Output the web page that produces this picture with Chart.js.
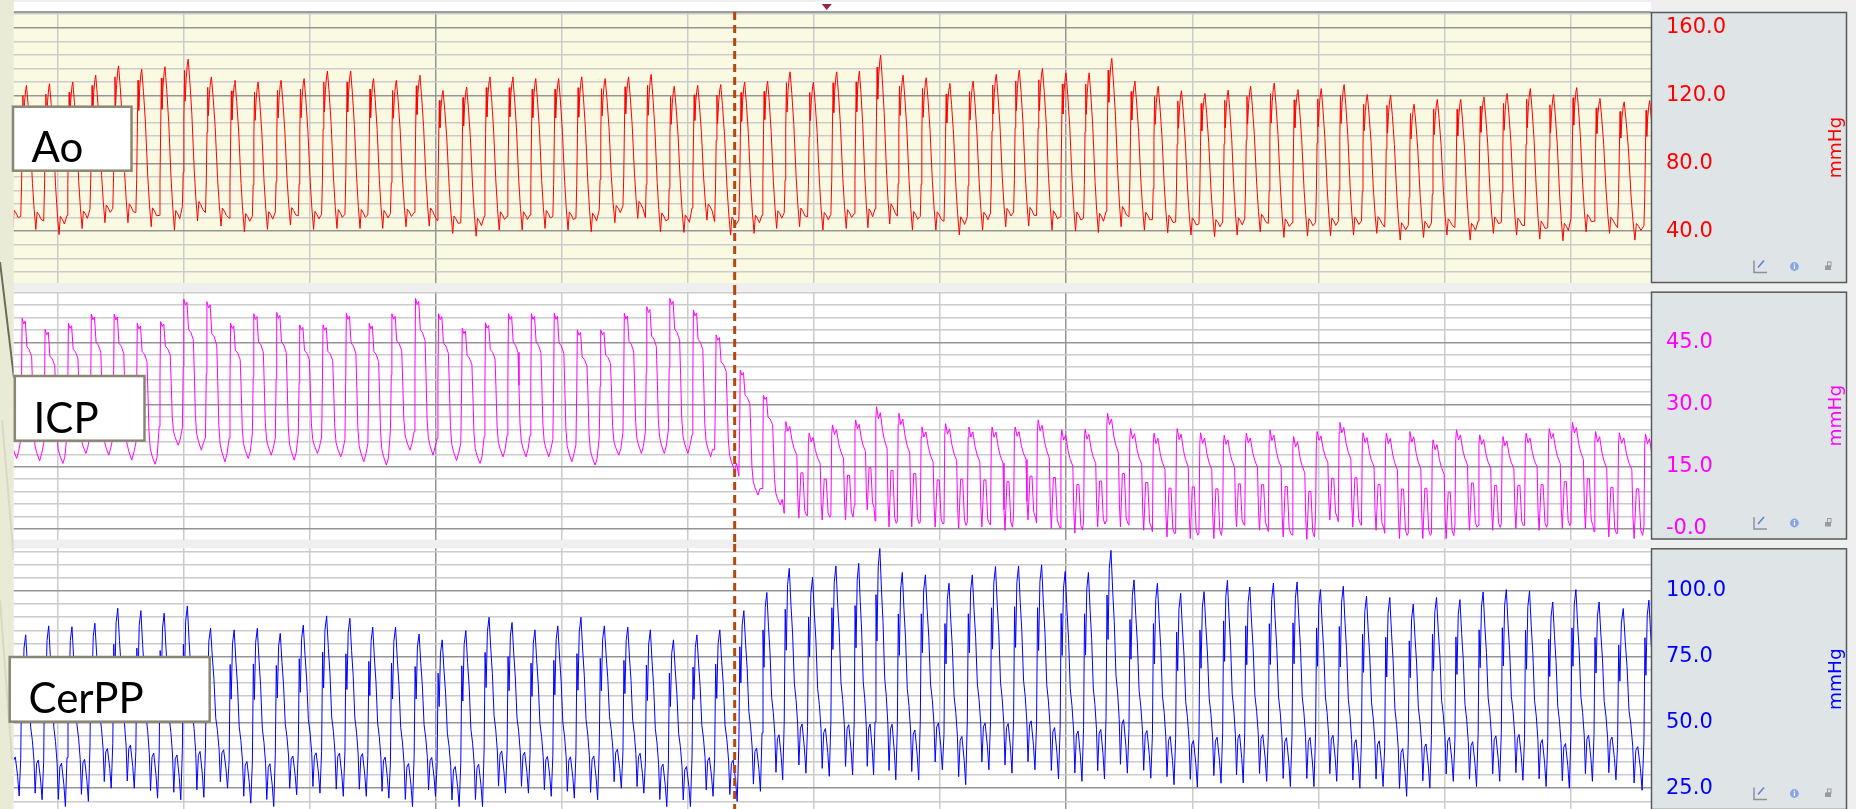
<!DOCTYPE html>
<html>
<head>
<meta charset="utf-8">
<title>Ao / ICP / CerPP</title>
<script src="https://cdn.jsdelivr.net/npm/chart.js@4.4.1/dist/chart.umd.min.js"></script>
<style>
  html, body { margin: 0; padding: 0; width: 1856px; height: 809px; overflow: hidden; background: #e9ebd6; }
  .panel { position: absolute; left: 0; width: 1856px; }
  .panel canvas { display: block; }
  svg.overlay { position: absolute; left: 0; top: 0; pointer-events: none; }
</style>
</head>
<body>

<svg class="overlay" width="1856" height="809">
  <line x1="0" y1="262" x2="14" y2="378" stroke="#6f6b57" stroke-width="2"/>
  <line x1="2" y1="420" x2="14" y2="560" stroke="#d7d9c3" stroke-width="2"/>
  <line x1="0" y1="600" x2="12" y2="760" stroke="#d7d9c3" stroke-width="2"/>
</svg>

<div class="panel" style="top:0;height:287px"><canvas id="aoChart"></canvas></div>
<div class="panel" style="top:287px;height:257px"><canvas id="icpChart"></canvas></div>
<div class="panel" style="top:544px;height:266px"><canvas id="cppChart"></canvas></div>

<svg class="overlay" width="1856" height="809">
  <g fill="#fff" stroke="#8b8674" stroke-width="2.5">
    <rect x="13" y="106.7" width="118.5" height="64"/>
    <rect x="14.8" y="376" width="129.7" height="64.7"/>
    <rect x="9.7" y="657" width="200" height="64.7"/>
  </g>
  <g font-family="Lato, 'Open Sans', sans-serif" font-size="42" fill="#000">
    <text x="31.6" y="162">Ao</text>
    <text x="33.6" y="432.7">ICP</text>
    <text x="28.5" y="713">CerPP</text>
  </g>
</svg>

<script>
// ============================================================
//  Ao / ICP / CerPP pressure traces
// ============================================================

// ── Beat onsets (s), one per heartbeat ───────────────
const beatTimes = [
  1.526, 1.709, 1.891, 2.076, 2.258, 2.439, 2.622, 2.807, 2.991, 3.174,
  3.362, 3.546, 3.728, 3.910, 4.095, 4.280, 4.462, 4.641, 4.829, 5.011,
  5.199, 5.384, 5.566, 5.748, 5.929, 6.112, 6.297, 6.485, 6.663, 6.845,
  7.033, 7.212, 7.404, 7.588, 7.764, 7.949, 8.134, 8.319, 8.484, 8.661,
  8.843, 9.031, 9.216, 9.400, 9.583, 9.765, 9.952, 10.138, 10.316, 10.498,
  10.684, 10.868, 11.053, 11.241, 11.416, 11.603, 11.791, 11.978, 12.158, 12.342,
  12.526, 12.713, 12.897, 13.083, 13.267, 13.451, 13.635, 13.819, 14.003, 14.186,
  14.373, 14.582
];

// ── Per-beat systolic / diastolic values (mmHg) ──────
const aoPeak = [
  128, 126, 127, 128, 132, 137.5, 135.5, 137, 141.5, 131,
  129, 128, 129, 130, 134.5, 134.5, 130, 129, 132, 123,
  125, 131, 131, 130, 130, 131, 130, 131, 132.5, 125.5,
  126, 126.5, 128, 128.5, 134, 128, 134, 134.5, 143.8, 132,
  130.5, 127.2, 128.5, 132.5, 135, 136, 133.4, 133.4, 141.9, 128.5,
  125.5, 122.8, 121.2, 123.2, 125.5, 127.4, 123.5, 124.1, 126.5, 120.6,
  120.2, 114.9, 117.7, 117.7, 119.3, 121.2, 124.1, 120.6, 124.7, 118.3,
  116.3, 117
];
const aoTrough = [
  42, 41, 38, 41.5, 45, 45, 42.6, 40.6, 46, 43,
  39.6, 41, 43.6, 41, 41.6, 41.6, 41.6, 42.6, 43, 38.7,
  37, 40.6, 40.6, 41.6, 40.6, 39.6, 45, 47.5, 39.6, 39.2,
  46.5, 37.7, 38.7, 41.6, 42.6, 40.6, 41.6, 42, 44.2, 40.6,
  40.6, 37.7, 40.6, 42.6, 43, 40.6, 40, 39.2, 42.6, 40.6,
  39, 37.7, 36.7, 37.7, 39.6, 36.3, 37.1, 37.3, 37.7, 38.7,
  34.7, 36.3, 37.7, 34.7, 38.7, 37.7, 35.3, 34.3, 39.6, 38.7,
  34.7, 36
];
const icpPeak = [
  50, 50.8, 48.1, 49.6, 51.8, 51.8, 49.6, 50, 55.4, 54.8,
  49.6, 51.9, 52.2, 49.2, 49.2, 52, 49.6, 51.9, 55.6, 51.9,
  48.4, 49.7, 51.9, 51.9, 52, 48, 48, 52, 53.6, 55.6,
  52.8, 46.8, 38.3, 32.3, 25.9, 23.1, 25.1, 26.3, 29.5, 27.9,
  24.6, 25.4, 24.6, 24.6, 24.6, 26.3, 23.9, 24, 27.9, 24.2,
  23.1, 24.2, 23.2, 22.6, 23.1, 23.9, 22.3, 23.5, 25.7, 23.2,
  23.1, 23.5, 21.5, 23.9, 22.7, 22.3, 23.1, 24.2, 25.7, 23.5,
  23.2, 22.9
];
const icpTrough = [
  17, 16.4, 15.8, 18.2, 17.8, 16.6, 15.6, 20.2, 19, 16.2,
  17, 17.8, 16.6, 18.2, 17.4, 16.2, 15.4, 19, 17.8, 16.5,
  15.8, 17.4, 17.4, 17.4, 16.2, 15.4, 17.8, 18.2, 18.2, 18.2,
  17.4, 14.2, 8.2, 5.8, 2.6, 2.2, 2.2, 4.6, 0.5, 0.5,
  0.5, 0.1, 0.5, -0.3, 2.2, 0.1, -1, 0.5, 0.5, -0.3,
  -1.9, -2.3, -2.3, 0.5, -0.3, -1.9, -2.7, 2.2, 0.5, -0.3,
  -2.3, -2.3, -2.3, -0.3, -0.3, 0.1, -0.3, 0.1, 0.1, -1.9,
  -2.3, -0.5
];
const cppPeak = [
  84, 83.3, 86.7, 86.4, 87.7, 93.4, 92.5, 91.5, 94.3, 85.8,
  85.2, 85.8, 83.9, 87, 90.5, 89.6, 86.2, 86.2, 83.6, 81.4,
  84.9, 90, 88, 85.2, 86.7, 90, 86.7, 86.2, 85.2, 81.4,
  83.3, 85.2, 92.5, 99.4, 108.6, 105.2, 109.5, 110.5, 116.2, 107,
  106.1, 102.9, 106.1, 109.3, 109.5, 109.9, 107.4, 107, 115.4, 104.2,
  102.9, 99.1, 99.7, 104, 101.5, 103, 103.4, 100.5, 101.8, 98,
  97.5, 95, 97.5, 96.7, 99.6, 100.5, 100, 95.8, 100.5, 95.8,
  93.3, 96.5
];
const cppTrough = [
  22, 20.6, 18, 20, 25, 25, 21.2, 20.6, 21.5, 25,
  19.3, 18, 22.5, 23.1, 21.9, 21.9, 21.2, 18, 21.9, 18,
  18, 23.1, 23.1, 21.9, 21.2, 20.6, 25, 23.1, 18, 18,
  21.9, 20, 23.8, 28.2, 30.7, 29.5, 30.1, 30.1, 28.2, 28.2,
  32, 26.3, 32, 30.7, 32, 28.5, 27.6, 28.5, 30.7, 28.8,
  26.3, 25.4, 26.9, 27, 27.6, 25.6, 25.6, 27.6, 25, 25.6,
  21.9, 25, 27.6, 25.6, 27.6, 28, 25.6, 25, 27.6, 28.2,
  24.2, 25
];

// ── Beat waveforms: [phase in beat, fraction trough→peak] ──
const aoShape = [
  [0, 0.09], [0.035, 0.3], [0.065, 0.63], [0.095, 0.93], [0.121, 0.74], [0.165, 0.88],
  [0.216, 0.97], [0.251, 1], [0.325, 0.86], [0.411, 0.66], [0.511, 0.32], [0.584, 0.14],
  [0.658, 0], [0.714, 0.12], [0.801, 0.1], [0.887, 0.07]
];
const icpShapeHigh = [
  [0, 0.15], [0.035, 0.55], [0.061, 1], [0.13, 0.96], [0.199, 0.98], [0.268, 0.8],
  [0.368, 0.78], [0.476, 0.73], [0.519, 0.5], [0.563, 0.23], [0.619, 0.11], [0.693, 0.06],
  [0.823, 0], [0.909, 0.05]
];
const icpShapeLow = [
  [0, 0.05], [0.035, 0.9], [0.069, 1], [0.152, 0.9], [0.238, 0.95], [0.338, 0.8],
  [0.424, 0.72], [0.541, 0.65], [0.584, 0.2], [0.628, 0], [0.714, 0.47], [0.801, 0.47],
  [0.879, 0.08], [0.952, 0.03]
];
const cppShape = [
  [0, 0.25], [0.043, 0.8], [0.087, 0.6], [0.143, 0.92], [0.216, 1], [0.29, 0.82],
  [0.359, 0.68], [0.433, 0.44], [0.506, 0.36], [0.576, 0.24], [0.628, 0.04], [0.693, 0.22],
  [0.766, 0.24], [0.866, 0.12], [0.931, 0]
];
const icpLowFrom = 34;        // first beat after the ICP drop
const beatPeriod = 0.183;     // used for the last beat only

// ── Axes ─────────────────────────────────────────────
const timeRange = [1.654, 14.638];
const markerTime = 7.371;     // dashed event line
const cursorTime = 8.101;     // red cursor arrow on top

const aoRange  = [9.4, 169.3];
const icpRange = [-2.53, 57.2];
const cppRange = [16.7, 116.2];
const aoTicks  = [40, 80, 120, 160];
const icpTicks = [0, 15, 30, 45];
const cppTicks = [25, 50, 75, 100];
const aoTickLabels  = ['40.0', '80.0', '120.0', '160.0'];
const icpTickLabels = ['-0.0', '15.0', '30.0', '45.0'];
const cppTickLabels = ['25.0', '50.0', '75.0', '100.0'];

// ── Build traces from beats ──────────────────────────
function buildTrace(peaks, troughs, shapeFor) {
  const pts = [];
  for (let i = 0; i < beatTimes.length; i++) {
    const t0 = beatTimes[i];
    const period = i + 1 < beatTimes.length ? beatTimes[i + 1] - t0 : beatPeriod;
    shapeFor(i).forEach(([ph, lv]) => {
      pts.push({ x: t0 + ph * period, y: troughs[i] + lv * (peaks[i] - troughs[i]) });
    });
  }
  return pts;
}

const aoData  = buildTrace(aoPeak, aoTrough, () => aoShape);
const icpData = buildTrace(icpPeak, icpTrough, i => (i < icpLowFrom ? icpShapeHigh : icpShapeLow));
const cppData = buildTrace(cppPeak, cppTrough, () => cppShape);

// ── Panel frame plugin (backgrounds, axis box, markers) ──
const GRID_MINOR = '#cbcbcb';
const GRID_MAJOR = '#959595';

function drawIcons(ctx, right, y) {
  // axis-settings icon
  ctx.strokeStyle = '#8d9296';
  ctx.lineWidth = 1.5;
  ctx.beginPath();
  ctx.moveTo(right - 93, y - 6);
  ctx.lineTo(right - 93, y + 6);
  ctx.lineTo(right - 80, y + 6);
  ctx.stroke();
  ctx.strokeStyle = '#5b7fd6';
  ctx.beginPath();
  ctx.moveTo(right - 89, y + 1);
  ctx.lineTo(right - 83, y - 6);
  ctx.stroke();
  // info
  ctx.fillStyle = '#86a4e6';
  ctx.beginPath();
  ctx.arc(right - 52.6, y, 4.4, 0, Math.PI * 2);
  ctx.fill();
  ctx.fillStyle = '#fff';
  ctx.fillRect(right - 53.2, y - 1, 1.3, 3.5);
  ctx.fillRect(right - 53.2, y - 3, 1.3, 1.2);
  // lock
  ctx.fillStyle = '#9a9a9a';
  ctx.fillRect(right - 22, y - 1, 6, 4.5);
  ctx.strokeStyle = '#9a9a9a';
  ctx.lineWidth = 1;
  ctx.strokeRect(right - 19.5, y - 4.5, 3.5, 4);
}

const panelFrame = {
  id: 'panelFrame',
  beforeDraw(chart, args, opts) {
    const { ctx, chartArea: a, width, height } = chart;
    const boxRight = width - 9;
    ctx.save();
    ctx.fillStyle = '#efefef';
    ctx.fillRect(a.left, 0, width - a.left, height);
    if (opts.top) {
      ctx.fillStyle = '#ffffff';
      ctx.fillRect(a.left, 2, a.right - a.left, a.top - 2);
    }
    ctx.fillStyle = opts.bg;
    ctx.fillRect(a.left, a.top, a.right - a.left, a.bottom - a.top);
    ctx.fillStyle = '#dfe5e6';
    ctx.fillRect(a.right, a.top, boxRight - a.right, a.bottom - a.top);
    ctx.restore();
  },
  afterDatasetsDraw(chart, args, opts) {
    const { ctx, chartArea: a, height } = chart;
    const xs = chart.scales.x;
    ctx.save();
    if (opts.top) {
      ctx.strokeStyle = '#7f7f7f';
      ctx.lineWidth = 1.5;
      ctx.beginPath();
      ctx.moveTo(a.left, a.top);
      ctx.lineTo(a.right, a.top);
      ctx.stroke();
      const cx = xs.getPixelForValue(cursorTime);
      ctx.fillStyle = '#9c2440';
      ctx.beginPath();
      ctx.moveTo(cx - 5, 4);
      ctx.lineTo(cx + 5, 4);
      ctx.lineTo(cx, 10);
      ctx.closePath();
      ctx.fill();
    }
    const mx = xs.getPixelForValue(markerTime);
    ctx.strokeStyle = '#b8460f';
    ctx.lineWidth = 3;
    ctx.setLineDash([8, 5]);
    ctx.beginPath();
    ctx.moveTo(mx, opts.top ? a.top : 0);
    ctx.lineTo(mx, height);
    ctx.stroke();
    ctx.restore();
  },
  afterDraw(chart, args, opts) {
    const { ctx, chartArea: a, width } = chart;
    const boxRight = width - 9;
    ctx.save();
    ctx.strokeStyle = '#555a5c';
    ctx.lineWidth = 1.5;
    ctx.strokeRect(a.right + 0.5, a.top + 0.5, boxRight - a.right - 1, a.bottom - a.top - 1);
    ctx.fillStyle = opts.color;
    ctx.font = '18.5px "DejaVu Sans"';
    ctx.textAlign = 'center';
    ctx.textBaseline = 'middle';
    ctx.translate(boxRight - 11, (a.top + a.bottom) / 2);
    ctx.rotate(-Math.PI / 2);
    ctx.fillText('mmHg', 0, 0);
    ctx.restore();
    ctx.save();
    drawIcons(ctx, boxRight, a.bottom - 16.5);
    ctx.restore();
  }
};

// ── Chart factory ────────────────────────────────────
function noPad(s) {
  s.paddingTop = 0;
  s.paddingBottom = 0;
  s.paddingLeft = 0;
  s.paddingRight = 0;
}

function makePanel(id, data, color, range, step, majors, labels, frame, pad) {
  return new Chart(document.getElementById(id), {
    type: 'line',
    data: {
      datasets: [{
        data,
        borderColor: color,
        borderWidth: 1,
        pointRadius: 0,
        tension: 0,
        fill: false,
        clip: 0
      }]
    },
    options: {
      responsive: true,
      maintainAspectRatio: false,
      animation: false,
      devicePixelRatio: 1,
      layout: { autoPadding: false, padding: { left: 13.8, right: 9, top: pad[0], bottom: pad[1] } },
      plugins: {
        legend: { display: false },
        tooltip: { enabled: false },
        panelFrame: Object.assign({ color }, frame)
      },
      scales: {
        x: {
          type: 'linear',
          min: timeRange[0],
          max: timeRange[1],
          ticks: { display: false, stepSize: 1, includeBounds: false, maxTicksLimit: 1000 },
          grid: {
            drawTicks: false,
            lineWidth: 1.5,
            color: c => (c.tick && c.tick.value % 5 === 0 ? GRID_MAJOR : GRID_MINOR)
          },
          border: { display: false },
          afterFit: s => { s.height = 0; noPad(s); }
        },
        y: {
          position: 'right',
          min: range[0],
          max: range[1],
          ticks: {
            stepSize: step,
            includeBounds: false,
            maxTicksLimit: 1000,
            autoSkip: false,
            crossAlign: 'near',
            padding: 15,
            color,
            font: { family: '"DejaVu Sans"', size: 21 },
            callback: v => {
              const k = majors.indexOf(v);
              return k < 0 ? '' : labels[k];
            }
          },
          grid: {
            drawTicks: false,
            lineWidth: 1.5,
            color: c => (c.tick && majors.includes(c.tick.value) ? GRID_MAJOR : GRID_MINOR)
          },
          border: { display: false },
          afterFit: s => { s.width = 196; noPad(s); }
        }
      }
    },
    plugins: [panelFrame]
  });
}

makePanel('aoChart', aoData, '#ff0000', aoRange, 8, aoTicks, aoTickLabels,
  { bg: '#fafae3', top: true }, [12, 4]);
makePanel('icpChart', icpData, '#ff00ff', icpRange, 3, icpTicks, icpTickLabels,
  { bg: '#ffffff', top: false }, [4.7, 4.5]);
makePanel('cppChart', cppData, '#0000ff', cppRange, 5, cppTicks, cppTickLabels,
  { bg: '#ffffff', top: false }, [4.3, 0]);
</script>
</body>
</html>
